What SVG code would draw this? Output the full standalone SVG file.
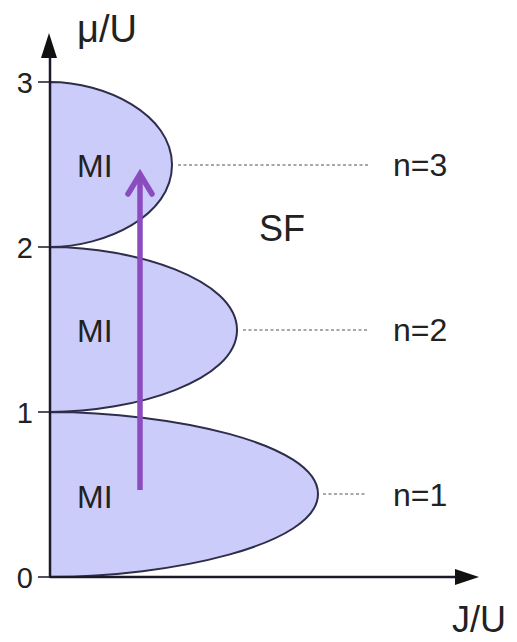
<svg xmlns="http://www.w3.org/2000/svg" width="517" height="642" viewBox="0 0 517 642">
<style>
.lobe{fill:#ccccfb;stroke:#2e2e4a;stroke-width:2}
.axis{stroke:#1a1a2a;stroke-width:2.5;fill:none}
.tick{stroke:#1a1a2a;stroke-width:1.5}
.dot{stroke:#8a8a8a;stroke-width:1.5;stroke-dasharray:3 2.5}
.t{font-family:"Liberation Sans",Arial,sans-serif;fill:#222}
.lab{font-size:32px}
.num{font-size:29px;text-anchor:end}
.pur{stroke:#8a4cbf;stroke-width:5.5;fill:none}
</style>
<g id="lobe1"><path class="lobe" d="M50,577 C170,577 318,545 318,494 C318,443 170,412 50,412 Z"/></g>
<g id="lobe2"><path class="lobe" d="M50,412 C134,412 237,381 237,330 C237,279 134,247 50,247 Z"/></g>
<g id="lobe3"><path class="lobe" d="M50,247 C105,247 172,216 172,165 C172,114 105,82 50,82 Z"/></g>
<g id="connectors">
<line class="dot" x1="178" y1="165" x2="370" y2="165"/>
<line class="dot" x1="243" y1="330" x2="368" y2="330"/>
<line class="dot" x1="323" y1="494" x2="367" y2="494"/>
<line class="axis" x1="50" y1="577" x2="50" y2="55"/>
<path d="M49,33 L41,58 L57,58 Z" fill="#111"/>
<line class="axis" x1="50" y1="577" x2="457" y2="577"/>
<path d="M479,577 L455,569 L455,585 Z" fill="#111"/>
<line class="tick" x1="38" y1="82" x2="50" y2="82"/>
<line class="tick" x1="38" y1="247" x2="50" y2="247"/>
<line class="tick" x1="38" y1="412" x2="50" y2="412"/>
<line class="tick" x1="38" y1="577" x2="50" y2="577"/>
<line class="pur" x1="140" y1="490" x2="140" y2="176"/>
<polyline class="pur" points="128,194 140,174 152,194" stroke-linecap="round"/>
</g>
<g id="labels">
<text class="t num" x="33" y="93">3</text>
<text class="t num" x="33" y="258">2</text>
<text class="t num" x="33" y="423">1</text>
<text class="t num" x="33" y="588">0</text>
<text class="t" x="77" y="42" font-size="38">μ/U</text>
<text class="t" x="452" y="632" font-size="36">J/U</text>
<text class="t lab" x="77" y="177">MI</text>
<text class="t lab" x="77" y="342">MI</text>
<text class="t lab" x="77" y="508">MI</text>
<text class="t" x="259" y="241" font-size="36">SF</text>
<text class="t lab" x="393" y="176">n=3</text>
<text class="t lab" x="393" y="341">n=2</text>
<text class="t lab" x="393" y="506">n=1</text>
</g>
</svg>
